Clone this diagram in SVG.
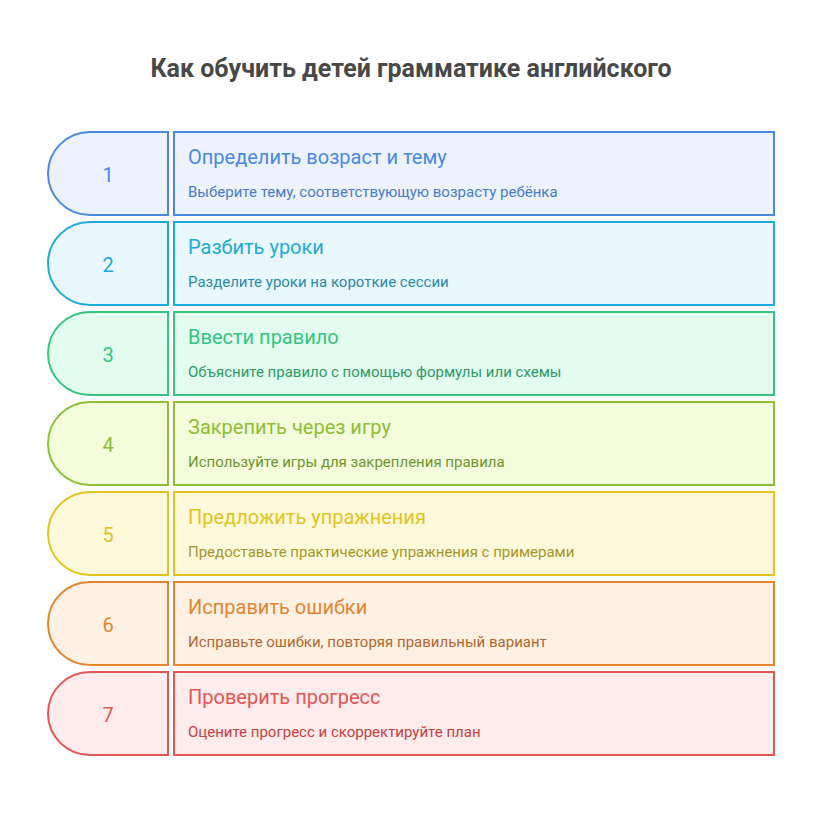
<svg xmlns="http://www.w3.org/2000/svg" width="822" height="828" viewBox="0 0 822 828">
<style>
text{font-family:Roboto,"Noto Sans","Liberation Sans",sans-serif}
.title{font-size:25px;font-weight:bold;fill:#484848;text-anchor:middle}
.num{font-size:20px;text-anchor:middle}
.h{font-size:20px}
.d{font-size:15px}
.s{stroke-width:2}
</style>
<rect width="822" height="828" fill="#ffffff"/>
<text class="title" x="411" y="77">Как обучить детей грамматике английского</text>
<g id="connectors"></g>
<g id="step1">
<path class="s" d="M168 132H90A42 41.5 0 0 0 90 215H168Z" fill="#EDF3FE" stroke="#4A88E2"/>
<rect class="s" x="174" y="132" width="600" height="83" fill="#EDF3FE" stroke="#4A88E2"/>
<text class="num" x="108" y="182" fill="#4A88E2">1</text>
<text class="h" x="188" y="164" fill="#4A88E2">Определить возраст и тему</text>
<text class="d" x="188" y="197" fill="#4A7ACB">Выберите тему, соответствующую возрасту ребёнка</text>
</g>
<g id="step2">
<path class="s" d="M168 222H90A42 41.5 0 0 0 90 305H168Z" fill="#E8F8FE" stroke="#1EAAD8"/>
<rect class="s" x="174" y="222" width="600" height="83" fill="#E8F8FE" stroke="#1EAAD8"/>
<text class="num" x="108" y="272" fill="#1EAAD8">2</text>
<text class="h" x="188" y="254" fill="#1EAAD8">Разбить уроки</text>
<text class="d" x="188" y="287" fill="#2A8AA8">Разделите уроки на короткие сессии</text>
</g>
<g id="step3">
<path class="s" d="M168 312H90A42 41.5 0 0 0 90 395H168Z" fill="#E2FCF0" stroke="#36C481"/>
<rect class="s" x="174" y="312" width="600" height="83" fill="#E2FCF0" stroke="#36C481"/>
<text class="num" x="108" y="362" fill="#36C481">3</text>
<text class="h" x="188" y="344" fill="#36C481">Ввести правило</text>
<text class="d" x="188" y="377" fill="#2E9A66">Объясните правило с помощью формулы или схемы</text>
</g>
<g id="step4">
<path class="s" d="M168 402H90A42 41.5 0 0 0 90 485H168Z" fill="#F3FDDC" stroke="#8EBE34"/>
<rect class="s" x="174" y="402" width="600" height="83" fill="#F3FDDC" stroke="#8EBE34"/>
<text class="num" x="108" y="452" fill="#8EBE34">4</text>
<text class="h" x="188" y="434" fill="#8EBE34">Закрепить через игру</text>
<text class="d" x="188" y="467" fill="#6E952C">Используйте игры для закрепления правила</text>
</g>
<g id="step5">
<path class="s" d="M168 492H90A42 41.5 0 0 0 90 575H168Z" fill="#FEF9DA" stroke="#E2C41E"/>
<rect class="s" x="174" y="492" width="600" height="83" fill="#FEF9DA" stroke="#E2C41E"/>
<text class="num" x="108" y="542" fill="#E2C41E">5</text>
<text class="h" x="188" y="524" fill="#E2C41E">Предложить упражнения</text>
<text class="d" x="188" y="557" fill="#A8952A">Предоставьте практические упражнения с примерами</text>
</g>
<g id="step6">
<path class="s" d="M168 582H90A42 41.5 0 0 0 90 665H168Z" fill="#FEF1E4" stroke="#E2852E"/>
<rect class="s" x="174" y="582" width="600" height="83" fill="#FEF1E4" stroke="#E2852E"/>
<text class="num" x="108" y="632" fill="#E2852E">6</text>
<text class="h" x="188" y="614" fill="#E2852E">Исправить ошибки</text>
<text class="d" x="188" y="647" fill="#B0672E">Исправьте ошибки, повторяя правильный вариант</text>
</g>
<g id="step7">
<path class="s" d="M168 672H90A42 41.5 0 0 0 90 755H168Z" fill="#FEEBEB" stroke="#E25656"/>
<rect class="s" x="174" y="672" width="600" height="83" fill="#FEEBEB" stroke="#E25656"/>
<text class="num" x="108" y="722" fill="#E25656">7</text>
<text class="h" x="188" y="704" fill="#E25656">Проверить прогресс</text>
<text class="d" x="188" y="737" fill="#C24242">Оцените прогресс и скорректируйте план</text>
</g>
</svg>
